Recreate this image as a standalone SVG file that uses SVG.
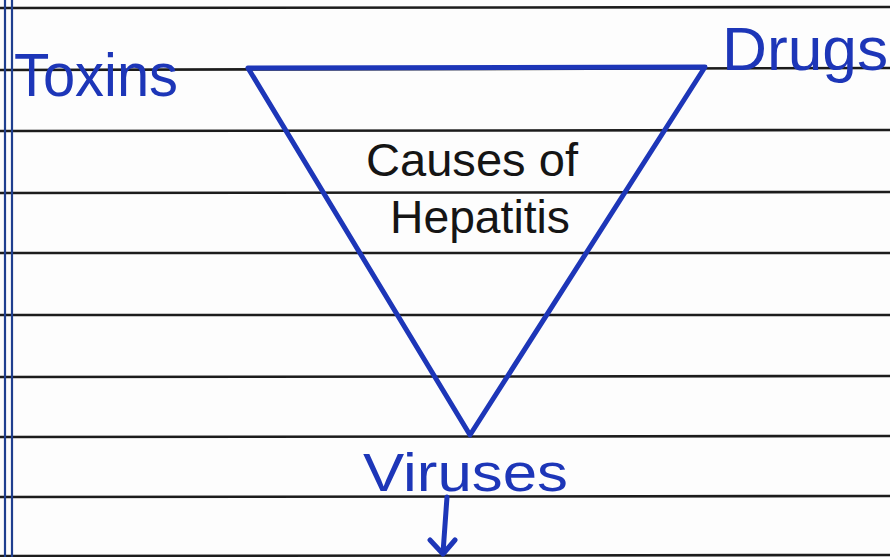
<svg xmlns="http://www.w3.org/2000/svg" width="890" height="557" viewBox="0 0 890 557">
<style>
.rule{stroke:#1c1c1c;stroke-width:2.6}
.margin{stroke:#1f3f8f;stroke-width:2.2}
.ink{fill:none;stroke:#1d36b8;stroke-width:5;stroke-linecap:round;stroke-linejoin:round}
.blue{fill:#1d36b8;font-family:"Liberation Sans",Arial,sans-serif}
.black{fill:#151515;font-family:"Liberation Sans",Arial,sans-serif}
</style>
<rect width="890" height="557" fill="#fdfdfd"/>
<g id="paper">
<line class="rule" x1="0" y1="8" x2="890" y2="7"/>
<line class="rule" x1="0" y1="70" x2="890" y2="68"/>
<line class="rule" x1="0" y1="131" x2="890" y2="130"/>
<line class="rule" x1="0" y1="193" x2="890" y2="192"/>
<line class="rule" x1="0" y1="253" x2="890" y2="253"/>
<line class="rule" x1="0" y1="315" x2="890" y2="315"/>
<line class="rule" x1="0" y1="377" x2="890" y2="376"/>
<line class="rule" x1="0" y1="437" x2="890" y2="436"/>
<line class="rule" x1="0" y1="497" x2="890" y2="496"/>
<line class="rule" x1="0" y1="556" x2="890" y2="555"/>
<line class="margin" x1="5" y1="0" x2="5" y2="557"/>
<line class="margin" x1="12" y1="0" x2="12" y2="557"/>
</g>
<g id="triangle">
<path class="ink" d="M248 68 L705 67 L470 435 Z"/>
</g>
<g id="connectors">
<path class="ink" d="M447 497 L443 553"/>
<path class="ink" d="M430 540 L443 554 L455 540"/>
</g>
<g id="toxins">
<text class="blue" x="14" y="96" font-size="62" textLength="164" lengthAdjust="spacingAndGlyphs">Toxins</text>
</g>
<g id="drugs">
<text class="blue" x="722" y="70" font-size="62" textLength="166" lengthAdjust="spacingAndGlyphs">Drugs</text>
</g>
<g id="center">
<text class="black" x="366" y="176" font-size="46" textLength="212" lengthAdjust="spacingAndGlyphs">Causes of</text>
<text class="black" x="390" y="233" font-size="46" textLength="180" lengthAdjust="spacingAndGlyphs">Hepatitis</text>
</g>
<g id="viruses">
<text class="blue" x="363" y="491" font-size="54" textLength="205" lengthAdjust="spacingAndGlyphs">Viruses</text>
</g>
</svg>
